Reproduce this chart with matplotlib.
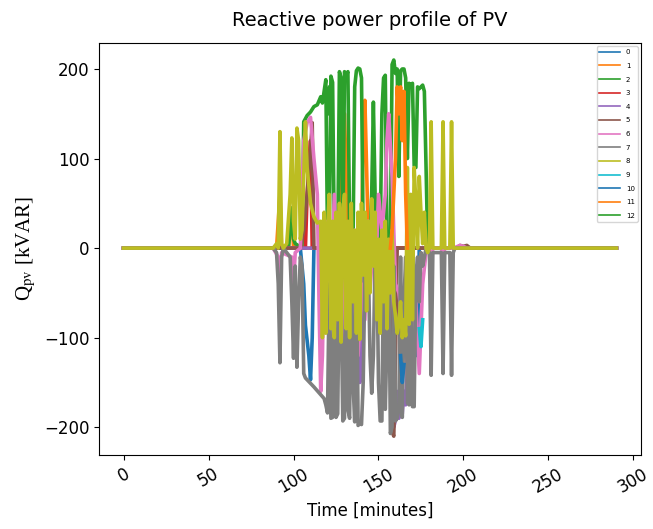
import matplotlib
matplotlib.use("Agg")
import matplotlib.pyplot as plt
import numpy as np

# sparse samples (minute, kVAR) for each PV unit
t0 = [0, 104, 106, 107, 109, 110, 111, 112, 170, 172, 173, 174, 290]
q0 = [0, 0, -40, -86, -120, -147, -100, 0, 0, -120, -100, 0, 0]

t1 = [0, 90, 91, 92, 93, 97, 98, 99, 100, 126, 127, 128, 130, 132, 140, 141, 142, 143,
      144, 145, 290]
q1 = [0, 0, 30, 60, 0, 0, 30, 40, 0, 0, 10, 120, 150, 10, 10, 120, 165, 90, 10, 0, 0]

t2 = [0, 97, 98, 99, 100, 101, 105, 106, 108, 110, 112, 114, 116, 117, 118, 119, 120, 121,
      122, 123, 124, 125, 126, 127, 128, 129, 130, 131, 132, 133, 134, 135, 136, 137, 138,
      139, 140, 141, 142, 143, 144, 145, 146, 147, 148, 149, 150, 151, 152, 153, 154, 155,
      156, 157, 158, 159, 160, 161, 162, 163, 164, 165, 166, 167, 168, 169, 170, 171, 172,
      173, 174, 175, 176, 177, 178, 179, 290]
q2 = [0, 0, 20, 45, 10, 5, 0, 141, 148, 152, 158, 160, 169, 162, 175, 188, 10, 5,
      192, 185, 8, 10, 5, 197, 190, 5, 197, 193, 197, 20, 5, 5, 180, 198, 201,
      200, 190, 10, 8, 5, 5, 10, 60, 163, 60, 5, 10, 5, 150, 190, 193, 10,
      5, 5, 205, 210, 195, 200, 80, 198, 200, 200, 190, 100, 184, 182, 184, 92, 90,
      180, 178, 180, 182, 175, 90, 0, 0]

t3 = [0, 107, 108, 109, 110, 111, 290]
q3 = [0, 0, 60, 90, 120, 0, 0]

t4 = [0, 130, 136, 137, 138, 139, 140, 141, 156, 158, 159, 160, 161, 162, 163, 164, 165,
      166, 167, 168, 170, 290]
q4 = [0, 0, -20, -100, -120, -150, -100, -10, -10, -180, -200, -192, -160, -190, -170,
      -185, -160, -175, -120, -10, 0, 0]

t5 = [0, 104, 106, 108, 110, 111, 112, 156, 157, 158, 159, 160, 161, 196, 198, 200, 202,
      204, 290]
q5 = [0, 0, 20, 60, 110, 140, 0, 0, -100, -205, -210, -120, 0, 0, 3, 2, 3, 0, 0]

t6 = [0, 88, 91, 92, 93, 99, 100, 101, 104, 106, 108, 110, 112, 114, 115, 116, 117, 118,
      120, 122, 124, 126, 128, 130, 132, 134, 136, 138, 140, 142, 144, 146, 148, 150, 152,
      154, 155, 156, 158, 160, 162, 164, 166, 168, 170, 172, 174, 176, 178, 180, 181, 182,
      187, 188, 189, 194, 198, 200, 202, 290]
q6 = [0, 0, -10, -30, -5, -10, -40, -5, 0, 120, 140, 146, 100, 60, -60, -160, -120, -20,
      30, -60, 60, -90, 40, -110, 20, -100, 20, -120, -40, -80, 30, 10, -50, 60, 20,
      60, 120, 150, 80, -40, -50, -80, -120, -165, -100, -60, -140, -40, -5, 0, -20, 0,
      0, -15, 0, 0, 3, 2, 0, 0]

t7 = [0, 88, 90, 91, 92, 93, 94, 98, 99, 100, 101, 102, 103, 104, 105, 106, 107, 112, 118,
      119, 120, 121, 122, 123, 124, 125, 126, 127, 128, 129, 130, 131, 132, 133, 134, 135,
      136, 137, 138, 139, 140, 141, 142, 143, 144, 145, 146, 147, 148, 149, 150, 151, 152,
      153, 154, 155, 156, 157, 158, 159, 160, 161, 162, 163, 164, 165, 166, 167, 168, 169,
      170, 171, 172, 173, 174, 175, 176, 177, 178, 180, 181, 182, 187, 188, 189, 192, 193,
      194, 195, 290]
q7 = [0, 0, -5, -40, -128, -10, 0, -10, -60, -123, -20, -133, -60, -10, -20, -140, -145,
      -155, -168, -175, -184, -40, -190, -189, -10, -189, -185, -20, -60, -193, -190, -10,
      -180, -190, -5, -150, -194, -5, -198, -196, -197, -150, -30, -5, -10, -120, -162,
      -120, -10, -5, -150, -193, -193, -10, -180, -100, -10, -207, -200, -20, -193, -190,
      -180, -10, -189, -60, -10, -173, -175, -20, -177, -177, -30, -10, -60, -5, -20, -10,
      0, -5, -142, -5, -5, -140, -5, -5, -142, -5, 0, 0]

t8 = [0, 88, 90, 91, 92, 93, 94, 96, 98, 99, 100, 101, 102, 103, 104, 105, 106, 107, 108,
      110, 112, 114, 116, 117, 118, 119, 120, 121, 122, 123, 124, 125, 126, 127, 128, 129,
      130, 131, 132, 133, 134, 135, 136, 137, 138, 139, 140, 141, 142, 143, 144, 145, 146,
      147, 148, 149, 150, 151, 152, 153, 154, 155, 156, 157, 158, 159, 160, 161, 162, 163,
      164, 165, 166, 167, 168, 169, 170, 171, 172, 173, 174, 175, 176, 177, 178, 179, 180,
      181, 182, 187, 188, 189, 192, 193, 194, 290]
q8 = [0, 0, 5, 0, 130, 5, 0, 5, 60, 123, 30, 10, 134, 120, 10, 20, 80, 141, 90,
      50, 35, 28, 30, -100, 40, -95, 20, 60, -90, 30, -100, 40, -80, 50, -105, 40,
      60, -90, 30, -100, 50, -60, 20, -95, 40, -102, 50, -30, 40, -70, 30, -50, 55,
      -20, 40, -80, 10, -95, 20, -60, 30, -90, 10, -50, 20, -60, -75, -95, -85, -60,
      -100, -80, -98, 90, -85, 60, -80, 90, 50, 0, 80, 40, 5, 40, 0, -5, 0,
      141, 0, 0, 141, 0, 0, 141, 0, 0]

t9 = [174, 175, 176]
q9 = [-90, -110, -80]

t10 = [163, 164, 165]
q10 = [-120, -150, -130]

t11 = [157, 158, 159, 160, 161, 162, 163, 164, 165, 166, 167]
q11 = [0, 20, 60, 100, 180, 150, 180, 120, 175, 60, 0]

t12 = [120, 121, 122]
q12 = [150, 180, 160]

times = [t0, t1, t2, t3, t4, t5, t6, t7, t8, t9, t10, t11, t12]
values = [q0, q1, q2, q3, q4, q5, q6, q7, q8, q9, q10, q11, q12]
labels = [str(i) for i in range(13)]

plt.rcParams['mathtext.fontset'] = 'stix'

fig, ax = plt.subplots(figsize=(6.53, 5.29), dpi=100)
fig.subplots_adjust(left=0.1516, right=0.9816, top=0.9187, bottom=0.1399)

for t, q, lab in zip(times, values, labels):
	ax.plot(t, q, lw=2.6, label=lab)

ax.set_xlim(-14.5, 304.5)
ax.set_ylim(-231, 229)
ax.set_xticks([0, 50, 100, 150, 200, 250, 300])
ax.set_yticks([-200, -100, 0, 100, 200])
ax.tick_params(axis='both', labelsize=12)
plt.setp(ax.get_xticklabels(), rotation=30)

ax.set_title("Reactive power profile of PV", fontsize=14, pad=12)
ax.set_xlabel("Time [minutes]", fontsize=12)
ax.set_ylabel(r"Q$_{\rm pv}$ [kVAR]", fontsize=15, family='Liberation Serif')

leg = ax.legend(loc='upper right', fontsize=5, labelspacing=1.1, handlelength=3)
for h in leg.get_lines():
	h.set_linewidth(1.2)

plt.savefig("out.png", dpi=100)
